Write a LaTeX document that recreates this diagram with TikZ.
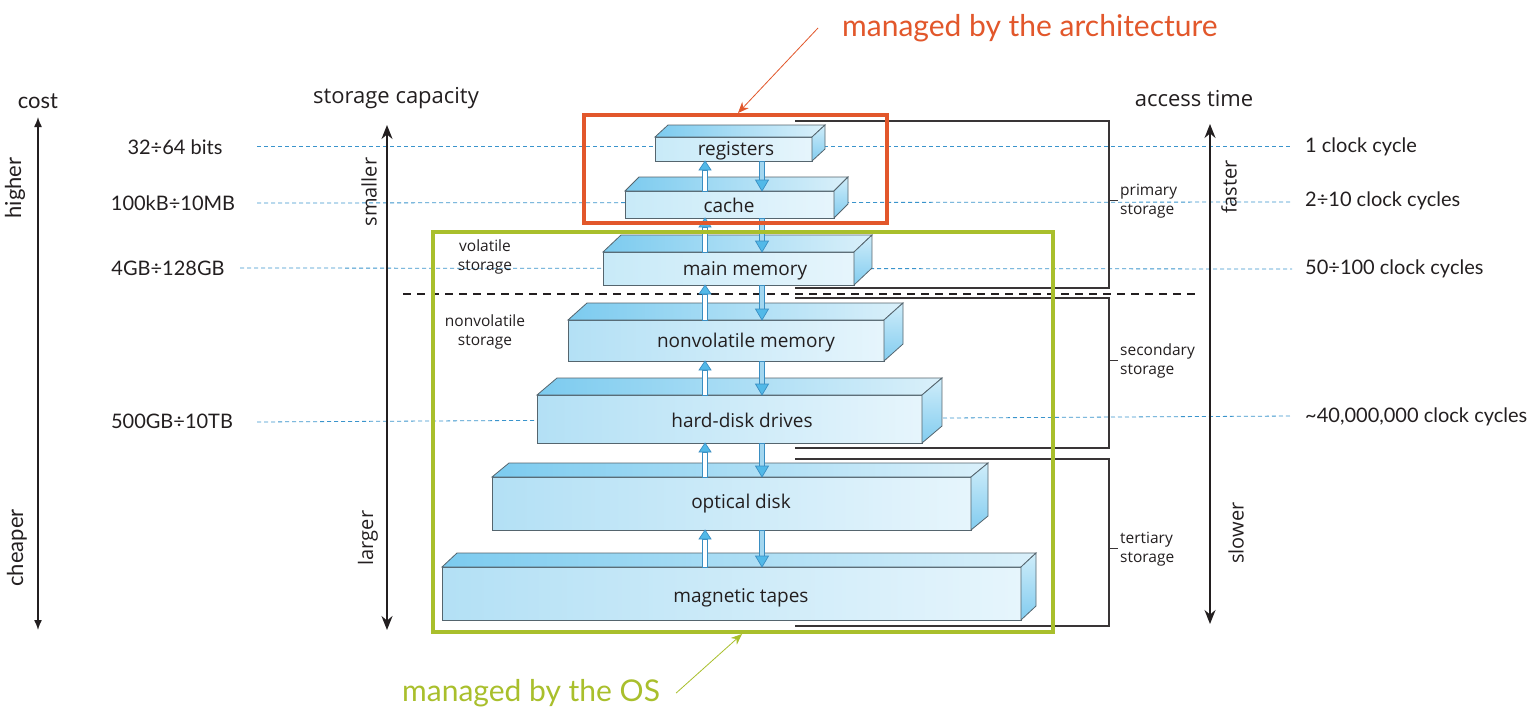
\documentclass[tikz,border=0pt]{standalone}
\usepackage{fontspec}
\setmainfont{Lato}
\newfontfamily\myr{Open Sans}
\usetikzlibrary{arrows.meta,calc}
\definecolor{textc}{HTML}{231F20}
\definecolor{dblue}{HTML}{3A94CC}
\definecolor{orangec}{HTML}{E2572B}
\definecolor{greenc}{HTML}{A9BF2C}
\definecolor{edgec}{HTML}{55656E}
\definecolor{fl}{HTML}{B3E0F5}
\definecolor{fr}{HTML}{E6F5FC}
\definecolor{fll}{HTML}{C8EAF8}
\definecolor{tl}{HTML}{7CCBEF}
\definecolor{tr}{HTML}{DAF0FA}
\definecolor{sidet}{HTML}{CFEDFA}
\definecolor{sideb}{HTML}{82CCEF}
\definecolor{ahead}{HTML}{52B9E8}
\definecolor{aedge}{HTML}{3A8EC2}
\definecolor{dshaft}{HTML}{A3D7F0}
\tikzset{
  frontface/.style={draw=edgec, line width=0.8pt, left color=fl, right color=fr,
    inner sep=0pt, outer sep=0pt},
  boxlbl/.style={inner sep=0pt, text=textc, font=\myr\fontsize{19}{22}\selectfont},
  light/.style={left color=fll},
  topface/.style={draw=edgec, line width=0.8pt, left color=tl, right color=tr},
  sideface/.style={draw=edgec, line width=0.8pt, top color=sidet, bottom color=sideb},
  upshaft/.style={fill=white, draw=aedge, line width=0.7pt},
  dnshaft/.style={fill=dshaft, draw=aedge, line width=0.7pt},
  arrhead/.style={fill=ahead, draw=aedge, line width=0.7pt},
  gill/.style={text=textc, inner sep=0pt, font=\fontsize{20}{24}\selectfont},
  myrtxt/.style={text=textc, inner sep=0pt, font=\myr\fontsize{15.5}{19.5}\selectfont, align=left},
  axislbl/.style={text=textc, inner sep=0pt, font=\myr\fontsize{20}{24}\selectfont},
  levelline/.style={draw=dblue, line width=0.8pt, dash pattern=on 4pt off 3pt},
  bracketline/.style={draw=textc!90, line width=1.3pt},
  sidearrow/.style={draw=textc, line width=1.8pt, {Stealth[length=14pt,width=11pt]}-{Stealth[length=14pt,width=11pt]}},
  costarrow/.style={draw=textc, line width=1.4pt, {Latex[length=10pt,width=8pt]}-{Latex[length=10pt,width=8pt]}}
}
% name, x1, y1, x2, y2, dx, dy, label x, style
\newcommand\layer[9]{%
  \node[frontface,#9, minimum width={(#4-#2)*1pt}, minimum height={(#5-#3)*1pt}] (#1) at ({(#2+#4)/2},{(#3+#5)/2}) {};
  \shade[topface] (#1.north west) -- ++(#6,-#7) -- ($(#1.north east)+(#6,-#7)$) -- (#1.north east) -- cycle;
  \shade[sideface] (#1.north east) -- ++(#6,-#7) -- ($(#1.south east)+(#6,-#7)$) -- (#1.south east) -- cycle;
  \coordinate (#1-lx) at (#8,0);
}
% name, vertical shift, text
\newcommand\lbl[3]{\node[boxlbl, yshift=-#2pt] (#1-label) at (#1.center -| #1-lx) {#3};}
\newcommand\linkpair[2]{%
  \path (#2.north -| upx) coordinate (#1-#2-ua) (#1.south -| upx) coordinate (#1-#2-ub)
        (#1.south -| dnx) coordinate (#1-#2-da) (#2.north -| dnx) coordinate (#1-#2-db);
  \filldraw[upshaft] ($(#1-#2-ua)+(-2.5,0)$) -- ($(#1-#2-ub)+(-2.5,9)$) -- ($(#1-#2-ub)+(2.5,9)$) -- ($(#1-#2-ua)+(2.5,0)$) -- cycle;
  \filldraw[arrhead] ($(#1-#2-ub)+(-6,9)$) -- (#1-#2-ub) -- ($(#1-#2-ub)+(6,9)$) -- cycle;
  \filldraw[dnshaft] ($(#1-#2-da)+(-2.5,0)$) -- ($(#1-#2-db)+(-2.5,-11)$) -- ($(#1-#2-db)+(2.5,-11)$) -- ($(#1-#2-da)+(2.5,0)$) -- cycle;
  \filldraw[arrhead] ($(#1-#2-db)+(-6.5,-11)$) -- (#1-#2-db) -- ($(#1-#2-db)+(6.5,-11)$) -- cycle;
}
\begin{document}
\begin{tikzpicture}[x=1pt,y=-1pt]
\useasboundingbox (0,0) rectangle (1531,717);
\fill[white] (0,0) rectangle (1531,717);
\coordinate (upx) at (705,0);
\coordinate (dnx) at (762,0);

% level lines
\draw[levelline] (257,146.5) -- (1292,146.5);
\draw[levelline] (257,203) -- (1292,202);
\draw[levelline] (240,268) -- (1292,269);
\draw[levelline] (257,422) -- (1292,416);
\draw[textc, line width=1.5pt, dash pattern=on 8pt off 6pt] (403,294) -- (1195,294);

% brackets
\draw[bracketline] (795,121) -- (1109,121) -- (1109,288) -- (795,288);
\draw[bracketline] (795,298) -- (1109,298) -- (1109,448) -- (795,448);
\draw[bracketline] (795,459) -- (1109,459) -- (1109,626) -- (795,626);
\draw[bracketline, line width=1pt] (1109,200) -- (1118,200);
\draw[bracketline, line width=1pt] (1109,360) -- (1118,360);
\draw[bracketline, line width=1pt] (1109,548) -- (1118,548);
\node[myrtxt, anchor=west] (prim) at (1120,201) {primary\\storage};
\node[myrtxt, anchor=west] (sec) at (1120,361) {secondary\\storage};
\node[myrtxt, anchor=west] (ter) at (1120,549) {tertiary\\storage};

% layers
\layer{reg}{655}{137}{812}{161}{13}{12}{736}{light}
\layer{cache}{625}{191}{834}{218}{14}{14}{729}{light}
\layer{mainm}{603}{252}{854}{285}{18}{17}{745}{light}
\layer{nvm}{568}{320}{884}{361}{19}{17}{746}{}
\layer{hdd}{537}{395}{922}{443}{20}{17}{742}{}
\layer{opt}{492}{477}{971}{530}{17}{14}{741}{}
\layer{tape}{442}{567}{1021}{620}{15}{14}{741}{}
\lbl{reg}{1.5}{registers}
\lbl{cache}{1}{cache}
\lbl{mainm}{2.5}{main memory}
\lbl{nvm}{2}{nonvolatile memory}
\lbl{hdd}{1.5}{hard-disk drives}
\lbl{opt}{0}{optical disk}
\lbl{tape}{4.5}{magnetic tapes}

\linkpair{reg}{cache}
\linkpair{cache}{mainm}
\linkpair{mainm}{nvm}
\linkpair{nvm}{hdd}
\linkpair{hdd}{opt}
\linkpair{opt}{tape}

\node[myrtxt, align=center] (vol) at (485,257) {volatile\\storage};
\node[myrtxt, align=center] (nvol) at (485,332) {nonvolatile\\storage};

% management boxes
\draw[orangec, line width=3.8pt] (584,115) rectangle (887,223);
\draw[greenc, line width=3.4pt] (433,232) rectangle (1053,632);
\node[text=orangec, inner sep=0pt, font=\fontsize{30}{36}\selectfont, anchor=west] (arch) at (842,28) {managed by the architecture};
\node[text=greenc, inner sep=0pt, font=\fontsize{30}{36}\selectfont, anchor=west] (os) at (402,693) {managed by the OS};
\coordinate (archtip) at (738,113);
\coordinate (ostip) at (742,634);
\draw[orangec, line width=0.8pt, -{Stealth[length=11pt,width=9pt]}] ($(arch.west)+(-24,0)$) -- (archtip);
\draw[greenc, line width=0.8pt, -{Stealth[length=11pt,width=9pt]}] ($(os.east)+(16,0)$) -- (ostip);

% left: cost
\node[gill, font=\fontsize{22}{26}\selectfont] (cost) at (38,101) {cost};
\coordinate (costtop) at (38,117);
\coordinate (costbot) at (38,630);
\draw[costarrow] (costtop) -- (costbot);
\node[gill, font=\fontsize{22}{26}\selectfont, rotate=90] (higher) at (15,188) {higher};
\node[gill, font=\fontsize{22}{26}\selectfont, rotate=90] (cheaper) at (17,548) {cheaper};

% storage capacity
\node[axislbl, font=\myr\fontsize{22}{26}\selectfont] (cap) at (396,98) {storage capacity};
\coordinate (captop) at (387,125);
\coordinate (capbot) at (387,630);
\draw[sidearrow] (captop) -- (capbot);
\node[axislbl, rotate=90] (smaller) at (369,192) {smaller};
\node[axislbl, rotate=90] (larger) at (368,538) {larger};

% access time
\node[axislbl, font=\myr\fontsize{22}{26}\selectfont] (acc) at (1194,99) {access time};
\coordinate (acctop) at (1210,124);
\coordinate (accbot) at (1210,624);
\draw[sidearrow] (acctop) -- (accbot);
\node[axislbl, rotate=90] (faster) at (1229,187) {faster};
\node[axislbl, rotate=90] (slower) at (1236,533) {slower};

% size labels
\node[gill] (s1) at (175,147) {32÷64 bits};
\node[gill] (s2) at (173,203) {100kB÷10MB};
\node[gill] (s3) at (168,268) {4GB÷128GB};
\node[gill] (s4) at (172,421) {500GB÷10TB};

% time labels
\node[gill, anchor=west] (t1) at (1305,147) {1 clock cycle};
\node[gill, anchor=west] (t2) at (1305,201) {2÷10 clock cycles};
\node[gill, anchor=west] (t3) at (1305,269) {50÷100 clock cycles};
\node[gill, anchor=west] (t4) at (1305,417) {\textasciitilde 40,000,000 clock cycles};
\end{tikzpicture}
\end{document}
